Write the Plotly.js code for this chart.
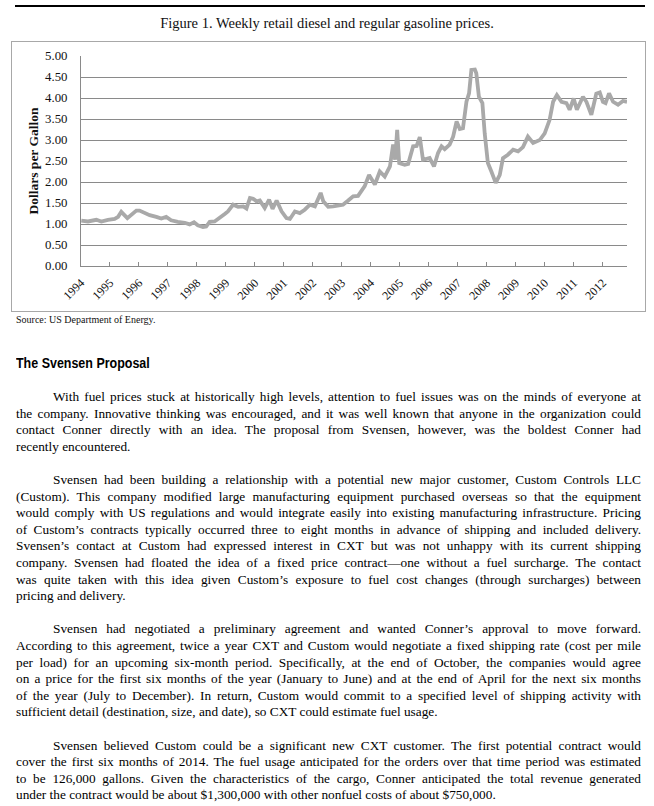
<!DOCTYPE html>
<html><head><meta charset="utf-8">
<script src="https://cdn.plot.ly/plotly-3.0.1.min.js"></script>
<style>
body{margin:0;width:654px;height:806px;background:#fff;position:relative;overflow:hidden;font-family:"Liberation Serif","Times New Roman",serif;color:#000}
#rule{position:absolute;left:15px;top:5px;width:630px;height:2px;background:#000}
#box{position:absolute;left:11px;top:41px;width:635px;height:271px;border:1px solid #a8a8a8;box-sizing:border-box}
#chart{position:absolute;left:0;top:0;width:654px;height:330px}
#src{position:absolute;left:16px;top:314px;font-size:10px;color:#111;white-space:nowrap}
#head{position:absolute;left:16px;top:355px;font-family:"Liberation Sans",Arial,sans-serif;font-weight:bold;font-size:14.5px;color:#000;transform:scaleX(0.86);transform-origin:left top;white-space:nowrap}
.ln{position:absolute;font-size:13.3px;line-height:16px;white-space:nowrap;color:#000}
</style></head>
<body>
<div id="rule"></div>
<div id="box"></div>
<div id="chart"></div>
<div id="src">Source: US Department of Energy.</div>
<div id="head">The Svensen Proposal</div>
<div id="text"></div>
<script>
// Weekly retail price series (dollars per gallon), positions on the year axis
const years = [1994.01,1994.24,1994.53,1994.70,1994.93,1995.16,1995.28,1995.39,1995.60,1995.73,
1995.91,1996.02,1996.20,1996.37,1996.60,1996.77,1996.94,1997.11,1997.34,1997.58,
1997.75,1997.90,1998.03,1998.21,1998.32,1998.44,1998.61,1998.78,1998.96,1999.07,
1999.25,1999.42,1999.60,1999.71,1999.83,1999.94,2000.06,2000.17,2000.34,2000.49,
2000.61,2000.75,2000.92,2001.09,2001.21,2001.38,2001.55,2001.72,2001.90,2002.07,
2002.18,2002.27,2002.36,2002.53,2002.70,2002.87,2003.04,2003.22,2003.39,2003.56,
2003.73,2003.79,2003.94,2004.14,2004.31,2004.48,2004.66,2004.77,2004.84,2004.91,
2004.98,2005.17,2005.29,2005.46,2005.58,2005.69,2005.80,2005.92,2006.03,2006.18,
2006.32,2006.44,2006.55,2006.72,2006.84,2006.96,2007.07,2007.18,2007.30,2007.39,
2007.47,2007.59,2007.64,2007.73,2007.85,2007.93,2008.04,2008.16,2008.31,2008.45,
2008.56,2008.73,2008.91,2009.08,2009.25,2009.42,2009.60,2009.83,2010.00,2010.17,
2010.29,2010.42,2010.58,2010.75,2010.86,2011.00,2011.11,2011.32,2011.44,2011.61,
2011.78,2011.90,2012.01,2012.10,2012.22,2012.36,2012.53,2012.70,2012.84];
const prices = [1.08,1.06,1.10,1.06,1.10,1.12,1.17,1.29,1.14,1.21,
1.32,1.32,1.26,1.21,1.17,1.13,1.17,1.09,1.05,1.03,
0.99,1.04,0.97,0.93,0.94,1.05,1.06,1.16,1.24,1.30,
1.46,1.41,1.42,1.37,1.62,1.60,1.54,1.56,1.38,1.58,
1.36,1.56,1.30,1.14,1.12,1.30,1.26,1.34,1.46,1.42,
1.58,1.74,1.54,1.41,1.42,1.43,1.46,1.56,1.66,1.67,
1.83,1.90,2.17,1.94,2.25,2.13,2.37,2.89,2.53,3.24,
2.45,2.41,2.43,2.85,2.86,3.07,2.53,2.55,2.57,2.37,
2.69,2.85,2.78,2.89,3.08,3.44,3.26,3.28,3.91,4.11,
4.67,4.68,4.59,4.03,3.88,3.16,2.45,2.25,1.98,2.17,
2.57,2.65,2.77,2.73,2.83,3.08,2.93,3.00,3.16,3.48,
3.91,4.07,3.91,3.88,3.72,3.99,3.72,4.03,3.91,3.60,
4.10,4.13,3.91,3.88,4.11,3.91,3.84,3.93,3.91];
const tickYears = [1994,1995,1996,1997,1998,1999,2000,2001,2002,2003,2004,2005,2006,2007,2008,2009,2010,2011,2012];
const tickLabels = tickYears.map(String);
const yTicks = [0,0.5,1,1.5,2,2.5,3,3.5,4,4.5,5];
const yTickLabels = ["0.00","0.50","1.00","1.50","2.00","2.50","3.00","3.50","4.00","4.50","5.00"];

const serif = '"Liberation Serif","Times New Roman",serif';
Plotly.newPlot('chart', [{
  x: years, y: prices, type: 'scatter', mode: 'lines',
  line: {color: '#a9a9a9', width: 3.8}, hoverinfo: 'skip'
}], {
  width: 654, height: 330,
  margin: {l: 81, r: 27, t: 56, b: 64, pad: 0},
  paper_bgcolor: 'rgba(0,0,0,0)', plot_bgcolor: 'rgba(0,0,0,0)',
  showlegend: false,
  font: {family: serif, color: '#111'},
  title: {text: 'Figure 1. Weekly retail diesel and regular gasoline prices.', font: {family: serif, size: 14.5, color: '#111'},
          x: 0.5, xref: 'container', xanchor: 'center', y: 1 - 23/330, yref: 'container', yanchor: 'middle'},
  xaxis: {range: [1994, 2012.84], tickvals: tickYears, ticktext: tickLabels, tickangle: -45,
          tickfont: {family: serif, size: 12, color: '#111'}, ticklabelstandoff: 4,
          showgrid: false, zeroline: false, showline: true, linecolor: '#8a8a8a', linewidth: 1,
          ticks: 'inside', ticklen: 4, tickcolor: '#8a8a8a', fixedrange: true},
  yaxis: {range: [0, 5], tickvals: yTicks, ticktext: yTickLabels,
          tickfont: {family: serif, size: 12.8, color: '#111'},
          showgrid: true, gridcolor: '#8a8a8a', gridwidth: 1, zeroline: false,
          showline: true, linecolor: '#8a8a8a', linewidth: 1, ticks: '', ticklabelstandoff: 10,
          title: {text: '<b>Dollars per Gallon</b>', font: {family: serif, size: 13.5, color: '#111'}, standoff: 3},
          fixedrange: true}
}, {staticPlot: true, displayModeBar: false});

// Body text, line by line as in the source page
const paragraphs = [
 ["With fuel prices stuck at historically high levels, attention to fuel issues was on the minds of everyone at",
  "the company. Innovative thinking was encouraged, and it was well known that anyone in the organization could",
  "contact Conner directly with an idea. The proposal from Svensen, however, was the boldest Conner had",
  "recently encountered."],
 ["Svensen had been building a relationship with a potential new major customer, Custom Controls LLC",
  "(Custom). This company modified large manufacturing equipment purchased overseas so that the equipment",
  "would comply with US regulations and would integrate easily into existing manufacturing infrastructure. Pricing",
  "of Custom\u2019s contracts typically occurred three to eight months in advance of shipping and included delivery.",
  "Svensen\u2019s contact at Custom had expressed interest in CXT but was not unhappy with its current shipping",
  "company. Svensen had floated the idea of a fixed price contract\u2014one without a fuel surcharge. The contact",
  "was quite taken with this idea given Custom\u2019s exposure to fuel cost changes (through surcharges) between",
  "pricing and delivery."],
 ["Svensen had negotiated a preliminary agreement and wanted Conner\u2019s approval to move forward.",
  "According to this agreement, twice a year CXT and Custom would negotiate a fixed shipping rate (cost per mile",
  "per load) for an upcoming six-month period. Specifically, at the end of October, the companies would agree",
  "on a price for the first six months of the year (January to June) and at the end of April for the next six months",
  "of the year (July to December). In return, Custom would commit to a specified level of shipping activity with",
  "sufficient detail (destination, size, and date), so CXT could estimate fuel usage."],
 ["Svensen believed Custom could be a significant new CXT customer. The first potential contract would",
  "cover the first six months of 2014. The fuel usage anticipated for the orders over that time period was estimated",
  "to be 126,000 gallons. Given the characteristics of the cargo, Conner anticipated the total revenue generated",
  "under the contract would be about $1,300,000 with other nonfuel costs of about $750,000."]
];
const L = 16, R = 641, indent = 37, top0 = 389, pitch = 16.6;
const holder = document.getElementById('text');
let idx = 0;
paragraphs.forEach((p, pi) => {
  p.forEach((t, li) => {
    const d = document.createElement('div');
    d.className = 'ln';
    const left = L + (li === 0 ? indent : 0);
    d.style.left = left + 'px';
    d.style.top = (top0 + idx * pitch) + 'px';
    d.textContent = t;
    holder.appendChild(d);
    const last = li === p.length - 1;
    const target = R - left;
    let w = d.getBoundingClientRect().width;
    if (w > target - 4) {
      const ls = (target - 4 - w) / t.length;
      d.style.letterSpacing = ls + 'px';
      w = d.getBoundingClientRect().width;
    }
    if (!last) {
      const spaces = (t.match(/ /g) || []).length;
      if (spaces > 0) d.style.wordSpacing = ((target - w) / spaces) + 'px';
    }
    idx++;
  });
  idx++;
});
</script>
</body></html>
